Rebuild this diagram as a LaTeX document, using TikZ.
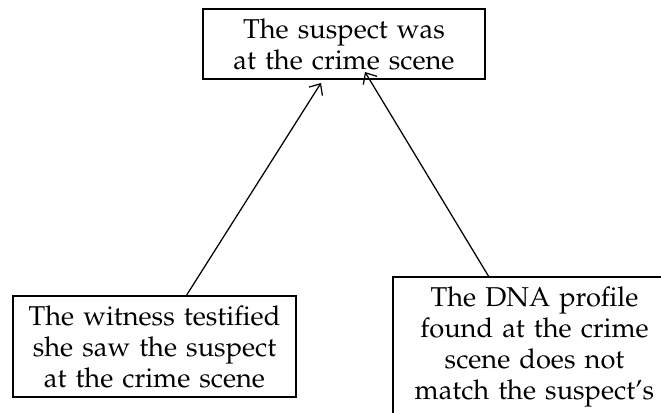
\documentclass[tikz,border=0pt]{standalone}
\usepackage[T1]{fontenc}
\usepackage{palatino}
\usepackage{tikz}
\usetikzlibrary{arrows.meta,positioning}

\begin{document}
\begin{tikzpicture}[x=1pt,y=1pt,
  claimbox/.style={draw=black,line width=0.8pt,align=center,
    text width=110pt,font=\fontsize{10.9}{12.4}\selectfont},
  support/.style={black,line width=0.5pt,-{Straight Barb[length=3.6pt,width=6.4pt]}}]
\tikzstyle{every node}+=[inner sep=0pt]
\useasboundingbox (0,0) rectangle (264.4,-165.2);
\clip (0,0) rectangle (264.4,-165.2);
\node [claimbox,minimum width=112.8pt,minimum height=28pt] (scene) at (137.6,-17.6) {The suspect was\\at the crime scene};
\node [claimbox,minimum width=113.2pt,minimum height=40.4pt] (witness) at (61.8,-138.6) {The witness testified\\she saw the suspect\\at the crime scene};
\node [claimbox,minimum width=113.2pt,minimum height=56pt,anchor=north west] (dna) at (156.8,-110.4) {The DNA profile\\found at the crime\\scene does not\\match the suspect's};
\draw [support] (witness.58) -- ([xshift=-9.2pt,yshift=-1.2pt]scene.south);
\draw [support] (dna.123) -- ([xshift=8.4pt,yshift=3.2pt]scene.south);
\end{tikzpicture}
\end{document}
